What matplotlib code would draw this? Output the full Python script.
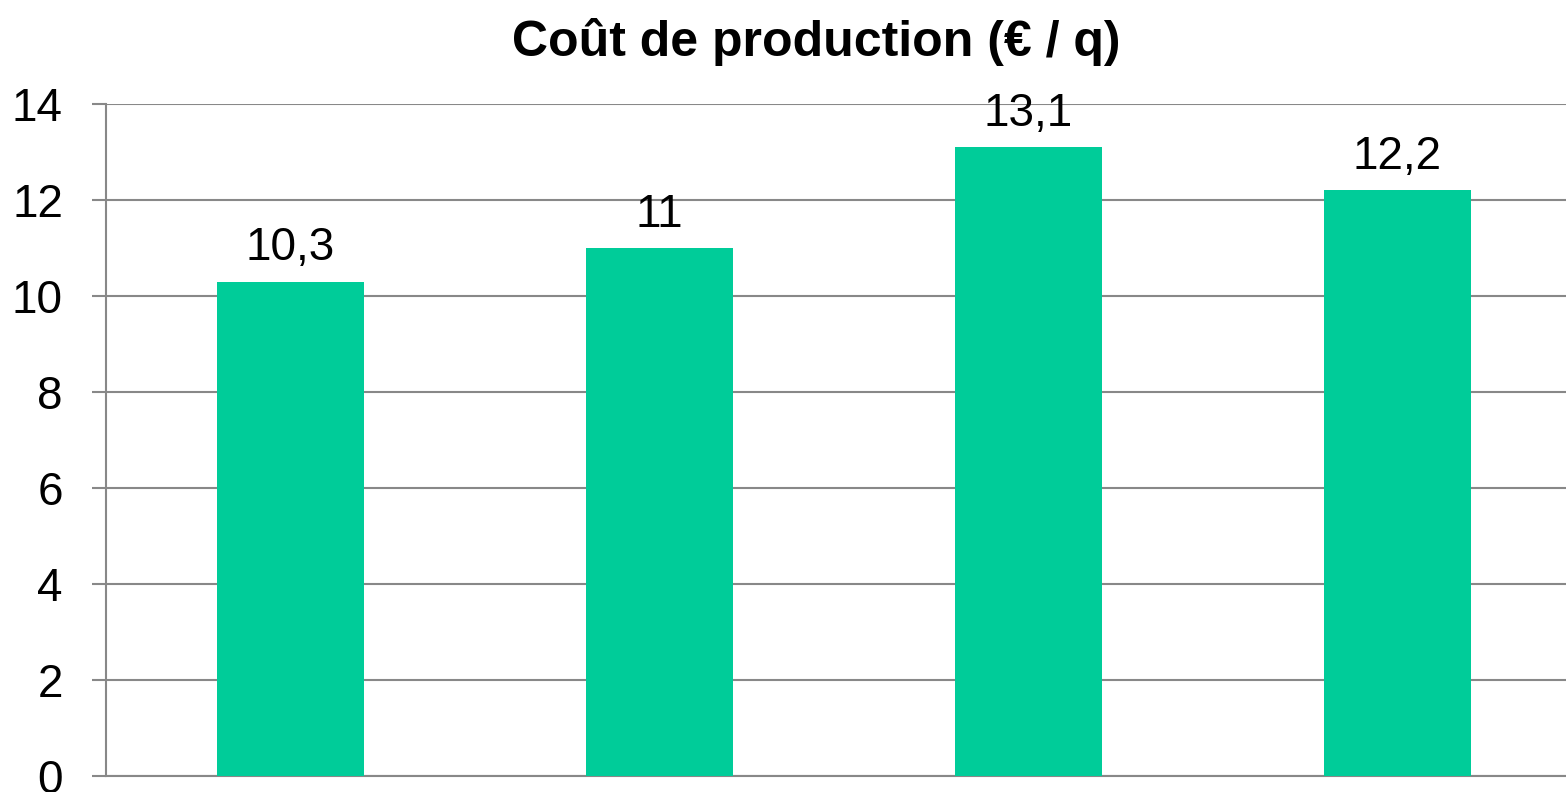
import matplotlib.pyplot as plt

plt.rcParams['font.family'] = ['Liberation Sans', 'DejaVu Sans']

# Data
categories = ['A', 'B', 'C', 'D']
values = [10.3, 11, 13.1, 12.2]
value_labels = ['10,3', '11', '13,1', '12,2']
yticks = [0, 2, 4, 6, 8, 10, 12, 14]

grid_color = '#888888'
bar_color = '#00CC99'

fig = plt.figure(figsize=(15.66, 7.92), dpi=100)
# plot area runs a little past the right edge, as in the original
ax = fig.add_axes([106 / 1566, 1 - 776 / 792, 1476 / 1566, (776 - 104) / 792])

x = range(len(categories))
bars = ax.bar(x, values, width=0.4, color=bar_color, zorder=3)

for xi, v, lab in zip(x, values, value_labels):
    ax.annotate(lab, (xi, v), xytext=(0, 8), textcoords='offset points',
                ha='center', va='bottom', fontsize=33, color='black')

ax.set_xlim(-0.5, len(categories) - 0.5)
ax.set_ylim(0, 14)
ax.set_yticks(yticks)
ax.set_yticklabels([str(t) for t in yticks], fontsize=33)
ax.set_xticks([])
ax.tick_params(axis='y', length=10, width=1.5, color=grid_color, pad=21)
ax.yaxis.grid(True, color=grid_color, linewidth=1.5, zorder=0)
ax.set_axisbelow(True)

for side in ['top', 'right']:
    ax.spines[side].set_visible(False)
for side in ['left', 'bottom']:
    ax.spines[side].set_color(grid_color)
    ax.spines[side].set_linewidth(1.5)

fig.text(816 / 1566, 1 - 42 / 792, 'Coût de production (€ / q)',
         ha='center', va='center', fontsize=36, fontweight='bold')

fig.savefig('out.png', dpi=100)
